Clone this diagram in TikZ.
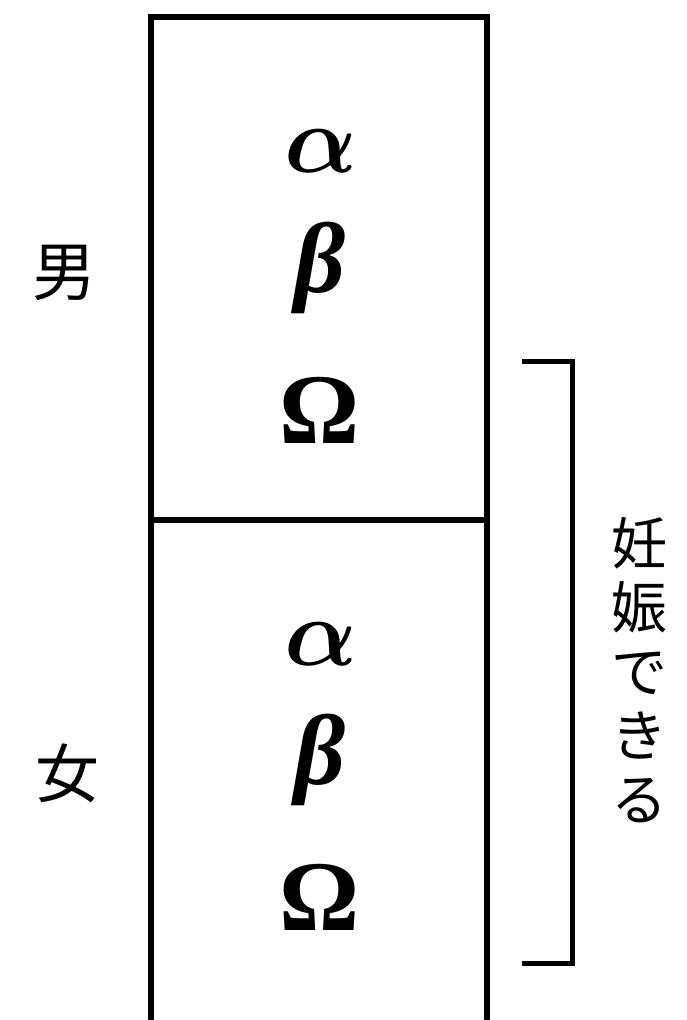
\documentclass[tikz,border=0pt]{standalone}
\usepackage{amsmath,bm}
\usepackage{graphicx}
\usepackage{fontspec}
\newfontfamily\jpfont{Noto Sans CJK JP}
\newfontfamily\grfont{Liberation Serif}
\tikzset{
  frame/.style={line width=5.5pt, line cap=rect},
  brk/.style={line width=5pt, line join=miter},
  greekcm/.style={inner sep=0pt},
  greekit/.style={inner sep=0pt, font=\grfont\bfseries\itshape\fontsize{100}{100}\selectfont},
  greekup/.style={inner sep=0pt, font=\grfont\bfseries\fontsize{100}{100}\selectfont},
  jplabel/.style={inner sep=0pt, font=\jpfont\fontsize{64}{64}\selectfont},
  vlabel/.style={inner sep=0pt, align=center, font=\jpfont\fontsize{56}{64}\selectfont}
}
\begin{document}
\begin{tikzpicture}[x=1pt,y=-1pt]
\useasboundingbox (0,0) rectangle (686,1020);
% frame
\coordinate (tl) at (151,17);
\coordinate (tr) at (487,17);
\coordinate (bl) at (151,1025);
\coordinate (br) at (487,1025);
\coordinate (ml) at (151,520);
\coordinate (mr) at (487,520);
\draw[frame] (bl) -- (tl) -- (tr) -- (br);
\draw[frame] (ml) -- (mr);
% bracket
\coordinate (b1) at (522,361);
\coordinate (b2) at (572,361);
\coordinate (b3) at (572,963);
\coordinate (b4) at (522,963);
\draw[brk] (b1) -- (b2) -- (b3) -- (b4);
% greek upper
\node[greekcm] (a1) at (321,151) {\scalebox{9.6}{$\bm{\alpha}$}};
\node[greekit] (be1) at (320,268) {β};
\node[greekup] (o1) at (320,410) {Ω};
% greek lower
\node[greekcm] (a2) at (321,644) {\scalebox{9.6}{$\bm{\alpha}$}};
\node[greekit] (be2) at (320,760) {β};
\node[greekup] (o2) at (320,897) {Ω};
% labels
\node[jplabel] (m) at (64,273) {男};
\node[jplabel] (f) at (67,773) {女};
\node[vlabel] (v) at (639,670) {妊\\娠\\で\\き\\る};
\end{tikzpicture}
\end{document}
